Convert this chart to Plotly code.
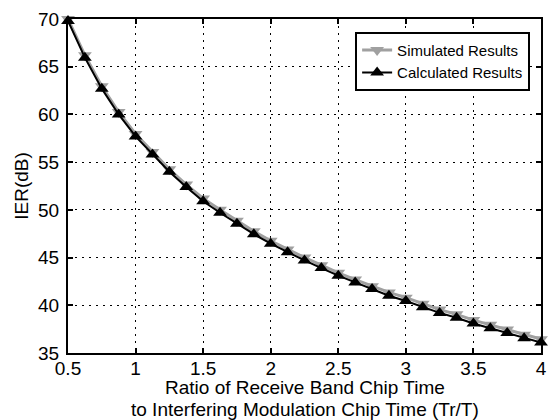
import plotly.graph_objects as go

ratio = [0.5, 0.625, 0.75, 0.875, 1.0, 1.125, 1.25, 1.375, 1.5, 1.625, 1.75, 1.875,
         2.0, 2.125, 2.25, 2.375, 2.5, 2.625, 2.75, 2.875, 3.0, 3.125, 3.25, 3.375,
         3.5, 3.625, 3.75, 3.875, 4.0]
calculated = [69.8, 65.95, 62.7, 60.0, 57.7, 55.8, 54.0, 52.4, 50.9, 49.7, 48.55, 47.45,
              46.45, 45.55, 44.7, 43.9, 43.1, 42.4, 41.7, 41.0, 40.45, 39.8, 39.2, 38.7,
              38.1, 37.6, 37.1, 36.55, 36.1]
simulated = [70.0, 66.2, 62.95, 60.25, 57.95, 56.05, 54.25, 52.65, 51.2, 50.0, 48.85, 47.75,
             46.75, 45.85, 45.0, 44.2, 43.4, 42.7, 42.0, 41.35, 40.8, 40.15, 39.55, 39.05,
             38.45, 37.95, 37.45, 36.9, 36.45]
x_ticks = [0.5, 1, 1.5, 2, 2.5, 3, 3.5, 4]
x_tick_labels = ["0.5", "1", "1.5", "2", "2.5", "3", "3.5", "4"]
y_ticks = [35, 40, 45, 50, 55, 60, 65, 70]
x_title_lines = ["Ratio of Receive Band Chip Time",
                 "to Interfering Modulation Chip Time (Tr/T)"]

font = "Liberation Sans, Arial, sans-serif"
H = 420
plot_top, plot_bottom = 19, 353

fig = go.Figure()
fig.add_trace(go.Scatter(
    x=ratio, y=simulated, mode="lines+markers", name="Simulated Results",
    line=dict(color="#a0a0a0", width=3),
    marker=dict(symbol="triangle-down", size=12, color="#a0a0a0"),
    cliponaxis=False,
))
fig.add_trace(go.Scatter(
    x=ratio, y=calculated, mode="lines+markers", name="Calculated Results",
    line=dict(color="black", width=2),
    marker=dict(symbol="triangle-up", size=12, color="black"),
    cliponaxis=False,
))

axis_common = dict(
    showline=True, linecolor="black", linewidth=2, mirror="ticks",
    ticks="inside", ticklen=5, tickwidth=1.5, tickcolor="black",
    showgrid=True, gridcolor="black", gridwidth=1.2, griddash="2px,5px",
    zeroline=False, tickfont=dict(family=font, size=19, color="black"),
    automargin=False,
)

fig.update_xaxes(range=[0.5, 4], tickvals=x_ticks, ticktext=x_tick_labels,
                 ticklabelstandoff=-3,
                 **axis_common)
fig.update_yaxes(range=[35, 70], tickvals=y_ticks,
                 title=dict(text="IER(dB)", font=dict(family=font, size=19, color="black"), standoff=4),
                 ticklabelstandoff=3,
                 **axis_common)

plot_h = plot_bottom - plot_top
for line_text, py in zip(x_title_lines, [387, 409]):
    fig.add_annotation(
        text=line_text, xref="paper", yref="paper",
        x=0.5, y=(plot_bottom - py) / plot_h,
        xanchor="center", yanchor="middle", showarrow=False,
        font=dict(family=font, size=19, color="black"),
    )

fig.update_layout(
    width=549, height=H,
    margin=dict(l=68, r=8, t=plot_top, b=H - plot_bottom),
    paper_bgcolor="white", plot_bgcolor="white",
    showlegend=True,
    legend=dict(x=0.977, y=0.962, xanchor="right", yanchor="top",
                bgcolor="white", bordercolor="black", borderwidth=2,
                font=dict(family=font, size=15, color="black"),
                tracegroupgap=0, itemwidth=30),
)

fig.write_html("out.html")
